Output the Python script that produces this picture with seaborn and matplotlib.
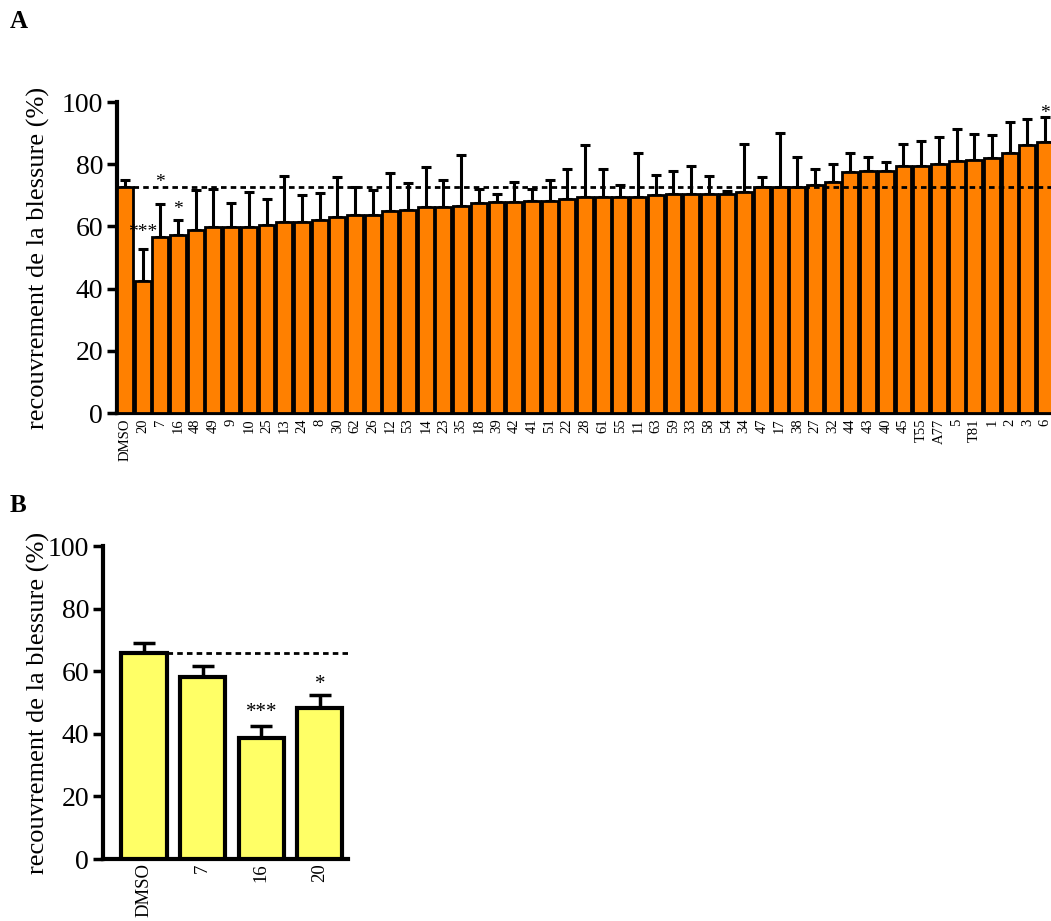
import numpy as np
import pandas as pd
import matplotlib
matplotlib.use("Agg")
import matplotlib.pyplot as plt
import seaborn as sns

# ---------------- data ----------------
cats_a = ["DMSO", "20", "7", "16", "48", "49", "9", "10", "25", "13", "24", "8",
          "30", "62", "26", "12", "53", "14", "23", "35", "18", "39", "42", "41",
          "51", "22", "28", "61", "55", "11", "63", "59", "33", "58", "54", "34",
          "47", "17", "38", "27", "32", "44", "43", "40", "45", "T55", "A77", "5",
          "T81", "1", "2", "3", "6"]
vals_a = [72.6, 42.4, 56.7, 57.2, 58.8, 59.7, 59.7, 59.9, 60.4, 61.4, 61.5, 62.2,
          63.1, 63.6, 63.8, 65.1, 65.3, 66.1, 66.3, 66.7, 67.4, 67.9, 67.9, 68.2,
          68.3, 68.8, 69.6, 69.6, 69.6, 69.6, 70.0, 70.3, 70.3, 70.3, 70.3, 71.0,
          72.8, 72.8, 72.8, 73.3, 74.4, 77.4, 77.8, 77.8, 79.4, 79.5, 80.0, 81.1,
          81.4, 81.9, 83.7, 86.2, 87.0]
sem_a = [2.3, 10.3, 10.5, 5.0, 12.9, 12.2, 7.7, 11.3, 8.4, 14.8, 8.5, 8.4,
         12.9, 9.0, 7.9, 12.0, 8.5, 12.9, 8.6, 16.1, 4.5, 2.4, 6.3, 3.7,
         6.6, 9.5, 16.6, 8.7, 3.7, 13.9, 6.4, 7.5, 9.1, 5.9, 1.2, 15.6,
         3.0, 17.3, 9.6, 5.3, 5.7, 6.3, 4.4, 2.8, 7.0, 8.0, 8.9, 10.1,
         8.4, 7.4, 9.8, 8.3, 8.1]
stars_a = {"20": "***", "7": "*", "16": "*", "6": "*"}
star_lvl_a = {"20": 56.5, "7": 72.8, "16": 64.0, "6": 95.0}

cats_b = ["DMSO", "7", "16", "20"]
vals_b = [65.7, 58.0, 38.5, 48.3]
sem_b = [3.2, 3.8, 4.0, 4.0]
stars_b = {"16": "***", "20": "*"}
star_lvl_b = {"16": 45.3, "20": 54.2}

ylabel = "recouvrement de la blessure (%)"
yticks = [0, 20, 40, 60, 80, 100]

# ---------------- style ----------------
sns.set_style("ticks")
plt.rcParams["font.family"] = ["Liberation Serif", "DejaVu Serif"]
for k in ["text.color", "axes.labelcolor", "xtick.color", "ytick.color", "axes.edgecolor"]:
    plt.rcParams[k] = "black"

W, H = 1051, 921
fig = plt.figure(figsize=(W / 100, H / 100), dpi=100)

def px_axes(left, right, top, bottom):
    return fig.add_axes([left / W, 1 - bottom / H, (right - left) / W, (bottom - top) / H])

def style_axes(ax, xtick_size):
    for s in ["top", "right"]:
        ax.spines[s].set_visible(False)
    for s in ["left", "bottom"]:
        ax.spines[s].set_linewidth(3)
        ax.spines[s].set_color("black")
    ax.set_ylim(0, 100)
    ax.set_yticks(yticks)
    ax.tick_params(axis="y", length=7, width=2.5, labelsize=20, pad=3, color="black")
    ax.tick_params(axis="x", length=0, labelsize=xtick_size, pad=4, rotation=90)
    ax.set_xlabel("")

def draw(ax, cats, vals, sems, color, width, lw, capsize, elw, stars, star_lvl, star_size):
    sns.barplot(x=cats, y=vals, order=cats, color=color, saturation=1, width=width,
                edgecolor="black", linewidth=lw, errorbar=None, ax=ax, zorder=3)
    bars = ax.patches[:len(cats)]
    xs = [p.get_x() + p.get_width() / 2 for p in bars]
    tops = [p.get_height() for p in bars]
    ax.errorbar(xs, tops, yerr=[np.zeros(len(sems)), sems], fmt="none", ecolor="black",
                elinewidth=elw, capsize=capsize, capthick=elw, zorder=2)
    for c, s in stars.items():
        i = cats.index(c)
        ax.text(xs[i], star_lvl[c], s, ha="center", va="baseline", fontsize=star_size)
    return bars

# ---------------- panel A ----------------
axA = px_axes(117, 1053, 102, 413)
barsA = draw(axA, cats_a, vals_a, sem_a, "#FF8000", 0.9, 2.0, 3.6, 2.2,
             stars_a, star_lvl_a, 14)
axA.set_xlim(-0.45, len(cats_a) - 0.55)
style_axes(axA, 10.5)
axA.hlines(vals_a[0], barsA[0].get_x() + barsA[0].get_width(), len(cats_a),
           colors="black", linestyles=(0, (2, 1.5)), linewidth=2, zorder=4)
axA.set_ylabel(ylabel, fontsize=19)
axA.yaxis.set_label_coords((50 - 117) / 936, 0.5)

# ---------------- panel B ----------------
axB = px_axes(103, 348, 546, 859)
barsB = draw(axB, cats_b, vals_b, sem_b, "#FFFF66", 0.77, 3.0, 8, 2.5,
             stars_b, star_lvl_b, 15)
axB.set_xlim(-0.7, 3.48)
style_axes(axB, 13.5)
axB.tick_params(axis="x", pad=3)
axB.hlines(vals_b[0], barsB[0].get_x() + barsB[0].get_width(), 3.48,
           colors="black", linestyles=(0, (2, 1.5)), linewidth=2, zorder=4)
axB.set_ylabel(ylabel, fontsize=19)
axB.yaxis.set_label_coords((50 - 103) / 245, 0.5)

fig.text(10 / W, 1 - 28 / H, "A", fontsize=18, fontweight="bold", va="baseline")
fig.text(10 / W, 1 - 512 / H, "B", fontsize=18, fontweight="bold", va="baseline")

fig.savefig("out.png", dpi=100)
